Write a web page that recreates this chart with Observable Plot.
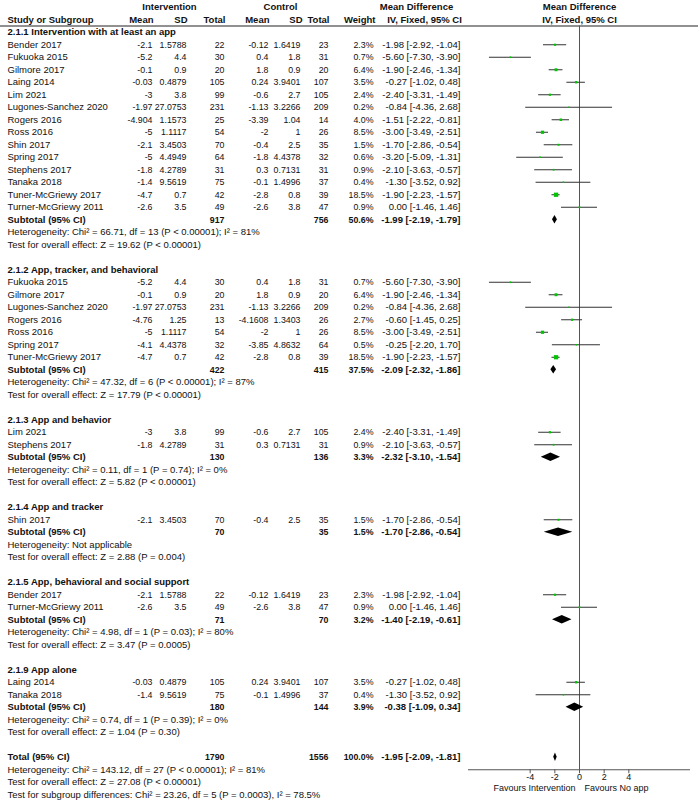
<!DOCTYPE html>
<html><head><meta charset="utf-8">
<script src="https://cdn.jsdelivr.net/npm/d3@7"></script>
<script src="https://cdn.jsdelivr.net/npm/@observablehq/plot@0.6"></script>
<style>body{margin:0;background:#fff}</style>
</head><body><div id="chart"></div>
<script>
// ---------- DATA ----------
const groupCodes = ["2.1.1", "2.1.2", "2.1.3", "2.1.4", "2.1.5", "2.1.9"];
const groupNames = ["Intervention with at least an app", "App, tracker, and behavioral", "App and behavior",
  "App and tracker", "App, behavioral and social support", "App alone"];

const studyGroup = [0,0,0,0,0,0,0,0,0,0,0,0,0,0, 1,1,1,1,1,1,1, 2,2, 3, 4,4, 5,5];
const studyName = [
  "Bender 2017","Fukuoka 2015","Gilmore 2017","Laing 2014","Lim 2021","Lugones-Sanchez 2020","Rogers 2016",
  "Ross 2016","Shin 2017","Spring 2017","Stephens 2017","Tanaka 2018","Tuner-McGriewy 2017","Turner-McGriewy 2011",
  "Fukuoka 2015","Gilmore 2017","Lugones-Sanchez 2020","Rogers 2016","Ross 2016","Spring 2017","Tuner-McGriewy 2017",
  "Lim 2021","Stephens 2017",
  "Shin 2017",
  "Bender 2017","Turner-McGriewy 2011",
  "Laing 2014","Tanaka 2018"];
const intMean = [-2.1,-5.2,-0.1,-0.03,-3,-1.97,-4.904,-5,-2.1,-5,-1.8,-1.4,-4.7,-2.6,
  -5.2,-0.1,-1.97,-4.76,-5,-4.1,-4.7, -3,-1.8, -2.1, -2.1,-2.6, -0.03,-1.4];
const intSD = [1.5788,4.4,0.9,0.4879,3.8,27.0753,1.1573,1.1117,3.4503,4.4949,4.2789,9.5619,0.7,3.5,
  4.4,0.9,27.0753,1.25,1.1117,4.4378,0.7, 3.8,4.2789, 3.4503, 1.5788,3.5, 0.4879,9.5619];
const intN = [22,30,20,105,99,231,25,54,70,64,31,75,42,49, 30,20,231,13,54,32,42, 99,31, 70, 22,49, 105,75];
const ctlMean = [-0.12,0.4,1.8,0.24,-0.6,-1.13,-3.39,-2,-0.4,-1.8,0.3,-0.1,-2.8,-2.6,
  0.4,1.8,-1.13,-4.1608,-2,-3.85,-2.8, -0.6,0.3, -0.4, -0.12,-2.6, 0.24,-0.1];
const ctlSD = [1.6419,1.8,0.9,3.9401,2.7,3.2266,1.04,1,2.5,4.4378,0.7131,1.4996,0.8,3.8,
  1.8,0.9,3.2266,1.3403,1,4.8632,0.8, 2.7,0.7131, 2.5, 1.6419,3.8, 3.9401,1.4996];
const ctlN = [23,31,20,107,105,209,14,26,35,32,31,37,39,47, 31,20,209,26,26,64,39, 105,31, 35, 23,47, 107,37];
const weight = [2.3,0.7,6.4,3.5,2.4,0.2,4.0,8.5,1.5,0.6,0.9,0.4,18.5,0.9,
  0.7,6.4,0.2,2.7,8.5,0.5,18.5, 2.4,0.9, 1.5, 2.3,0.9, 3.5,0.4];
const md = [-1.98,-5.60,-1.90,-0.27,-2.40,-0.84,-1.51,-3.00,-1.70,-3.20,-2.10,-1.30,-1.90,0.00,
  -5.60,-1.90,-0.84,-0.60,-3.00,-0.25,-1.90, -2.40,-2.10, -1.70, -1.98,0.00, -0.27,-1.30];
const mdLow = [-2.92,-7.30,-2.46,-1.02,-3.31,-4.36,-2.22,-3.49,-2.86,-5.09,-3.63,-3.52,-2.23,-1.46,
  -7.30,-2.46,-4.36,-1.45,-3.49,-2.20,-2.23, -3.31,-3.63, -2.86, -2.92,-1.46, -1.02,-3.52];
const mdHigh = [-1.04,-3.90,-1.34,0.48,-1.49,2.68,-0.81,-2.51,-0.54,-1.31,-0.57,0.92,-1.57,1.46,
  -3.90,-1.34,2.68,0.25,-2.51,1.70,-1.57, -1.49,-0.57, -0.54, -1.04,1.46, 0.48,0.92];

const subN1 = [917, 422, 130, 70, 71, 180];
const subN2 = [756, 415, 136, 35, 70, 144];
const subWeight = [50.6, 37.5, 3.3, 1.5, 3.2, 3.9];
const subMD = [-1.99, -2.09, -2.32, -1.70, -1.40, -0.38];
const subLow = [-2.19, -2.32, -3.10, -2.86, -2.19, -1.09];
const subHigh = [-1.79, -1.86, -1.54, -0.54, -0.61, 0.34];
const subHet = ["Chi² = 66.71, df = 13 (P < 0.00001); I² = 81%", "Chi² = 47.32, df = 6 (P < 0.00001); I² = 87%",
  "Chi² = 0.11, df = 1 (P = 0.74); I² = 0%", "Not applicable", "Chi² = 4.98, df = 1 (P = 0.03); I² = 80%",
  "Chi² = 0.74, df = 1 (P = 0.39); I² = 0%"];
const subZ = ["Z = 19.62 (P < 0.00001)", "Z = 17.79 (P < 0.00001)", "Z = 5.82 (P < 0.00001)",
  "Z = 2.88 (P = 0.004)", "Z = 3.47 (P = 0.0005)", "Z = 1.04 (P = 0.30)"];

const totalN = [1790, 1556];
const totalWeight = 100.0;
const totalMD = [-1.95, -2.09, -1.81];
const totalHet = "Chi² = 143.12, df = 27 (P < 0.00001); I² = 81%";
const totalZ = "Z = 27.08 (P < 0.00001)";
const subgroupTest = "Chi² = 23.26, df = 5 (P = 0.0003), I² = 78.5%";

const xDomain = [-9, 9];
const xTicks = [-4, -2, 0, 2, 4];
const favours = ["Favours Intervention", "Favours No app"];

// ---------- LAYOUT ----------
const FS = 9.5;   // text font size
const FN = 8.8;   // numeric column font size
const FA = 9;     // axis font size
const columns = [
  {key: "name", x: 7, anchor: "start", fs: FS},
  {key: "m1", x: 152, anchor: "end", fs: FN},
  {key: "sd1", x: 186, anchor: "end", fs: FN},
  {key: "n1", x: 224, anchor: "end", fs: FN},
  {key: "m2", x: 268, anchor: "end", fs: FN},
  {key: "sd2", x: 300, anchor: "end", fs: FN},
  {key: "n2", x: 328, anchor: "end", fs: FN},
  {key: "w", x: 373, anchor: "end", fs: FN},
  {key: "ci", x: 460, anchor: "end", fs: FS},
  {key: "hm1", x: 153, anchor: "end", fs: FS},
  {key: "hsd1", x: 187, anchor: "end", fs: FS},
  {key: "hn1", x: 225, anchor: "end", fs: FS},
  {key: "hm2", x: 269, anchor: "end", fs: FS},
  {key: "hsd2", x: 302, anchor: "end", fs: FS},
  {key: "hn2", x: 329, anchor: "end", fs: FS},
  {key: "hw", x: 375, anchor: "end", fs: FS},
  {key: "hInt", x: 169, anchor: "middle", fs: FS},
  {key: "hCtl", x: 280, anchor: "middle", fs: FS},
  {key: "hMD", x: 416, anchor: "middle", fs: FS},
  {key: "hIV", x: 424, anchor: "middle", fs: FS}
];
const diamondHalf = 0.34; // in row units

const fmtCI = (m, l, h) => `${m.toFixed(2)} [${l.toFixed(2)}, ${h.toFixed(2)}]`;
const lines = [];
const add = (row, col, text, bold = false) => lines.push({row, col, text: String(text), bold});

add(0, "hInt", "Intervention", true);
add(0, "hCtl", "Control", true);
add(0, "hMD", "Mean Difference", true);
add(1, "name", "Study or Subgroup", true);
add(1, "hm1", "Mean", true); add(1, "hsd1", "SD", true); add(1, "hn1", "Total", true);
add(1, "hm2", "Mean", true); add(1, "hsd2", "SD", true); add(1, "hn2", "Total", true);
add(1, "hw", "Weight", true);
add(1, "hIV", "IV, Fixed, 95% CI", true);
const forestHeaders = [{row: 0, text: "Mean Difference"}, {row: 1, text: "IV, Fixed, 95% CI"}];

const studyRows = [];
const diamonds = [];
let r = 2;
groupCodes.forEach((code, g) => {
  add(r, "name", `${code} ${groupNames[g]}`, true); r++;
  studyName.forEach((name, i) => {
    if (studyGroup[i] !== g) return;
    add(r, "name", name);
    add(r, "m1", intMean[i]); add(r, "sd1", intSD[i]); add(r, "n1", intN[i]);
    add(r, "m2", ctlMean[i]); add(r, "sd2", ctlSD[i]); add(r, "n2", ctlN[i]);
    add(r, "w", weight[i].toFixed(1) + "%");
    add(r, "ci", fmtCI(md[i], mdLow[i], mdHigh[i]));
    studyRows.push({row: r, md: md[i], lo: mdLow[i], hi: mdHigh[i], w: weight[i]});
    r++;
  });
  add(r, "name", "Subtotal (95% CI)", true);
  add(r, "n1", subN1[g], true); add(r, "n2", subN2[g], true);
  add(r, "w", subWeight[g].toFixed(1) + "%", true);
  add(r, "ci", fmtCI(subMD[g], subLow[g], subHigh[g]), true);
  diamonds.push({id: g, row: r, md: subMD[g], lo: subLow[g], hi: subHigh[g]});
  r++;
  add(r, "name", "Heterogeneity: " + subHet[g]); r++;
  add(r, "name", "Test for overall effect: " + subZ[g]); r++;
  r++;
});
add(r, "name", "Total (95% CI)", true);
add(r, "n1", totalN[0], true); add(r, "n2", totalN[1], true);
add(r, "w", totalWeight.toFixed(1) + "%", true);
add(r, "ci", fmtCI(...totalMD), true);
diamonds.push({id: "total", row: r, md: totalMD[0], lo: totalMD[1], hi: totalMD[2]});
const axisRow = r + 1;
r++;
add(r, "name", "Heterogeneity: " + totalHet); r++;
add(r, "name", "Test for overall effect: " + totalZ); r++;
add(r, "name", "Test for subgroup differences: " + subgroupTest); r++;

const diamondPts = diamonds.flatMap(d => [
  {id: d.id, y: d.row - diamondHalf, x1: d.md, x2: d.md},
  {id: d.id, y: d.row, x1: d.lo, x2: d.hi},
  {id: d.id, y: d.row + diamondHalf, x1: d.md, x2: d.md}
]);

const textMarks = [];
for (const c of columns) for (const bold of [false, true]) {
  const d = lines.filter(l => l.col === c.key && l.bold === bold);
  if (!d.length) continue;
  textMarks.push(Plot.text(d, {frameAnchor: "left", dx: c.x, y: "row", text: "text",
    textAnchor: c.anchor, fontWeight: bold ? "bold" : "normal", fontSize: c.fs}));
}

const rowTop = 1.5;
const chart = Plot.plot({
  width: 698, height: 801,
  marginTop: 25.5, marginBottom: 801 - (6.75 + 12.5 * axisRow), marginLeft: 0, marginRight: 0,
  x: {domain: xDomain, range: [468, 690], label: null},
  y: {domain: [rowTop, axisRow], reverse: true, axis: null},
  r: {type: "sqrt", domain: [0, 18.5], range: [0.6, 2.4]},
  style: {fontFamily: "'Liberation Sans', Arial, sans-serif", fontSize: FS + "px", color: "#111", background: "#fff"},
  marks: [
    Plot.ruleY([rowTop], {stroke: "#222", strokeWidth: 1}),
    Plot.ruleX([0], {stroke: "#555", strokeWidth: 1}),
    Plot.ruleY([axisRow], {x1: xDomain[0], x2: xDomain[1], stroke: "#555"}),
    Plot.axisX({anchor: "bottom", ticks: xTicks, tickSize: 4, tickPadding: 0, label: null,
      tickFormat: d => String(d), fontSize: FA, stroke: "#555"}),
    Plot.ruleY(studyRows, {y: "row", x1: "lo", x2: "hi", stroke: "#333", strokeWidth: 1}),
    Plot.dot(studyRows, {x: "md", y: "row", r: "w", symbol: "square", fill: "#00c400", stroke: null}),
    Plot.areaX(diamondPts, {y: "y", x1: "x1", x2: "x2", z: "id", fill: "#000"}),
    Plot.text(forestHeaders, {x: () => 0, y: "row", text: "text", fontWeight: "bold", fontSize: FS}),
    Plot.text([favours[0]], {x: () => 0, frameAnchor: "bottom", dy: 21, dx: -4, textAnchor: "end", fontSize: FA}),
    Plot.text([favours[1]], {x: () => 0, frameAnchor: "bottom", dy: 21, dx: 5, textAnchor: "start", fontSize: FA}),
    ...textMarks
  ]
});
document.getElementById("chart").appendChild(chart);
</script>
</body></html>
